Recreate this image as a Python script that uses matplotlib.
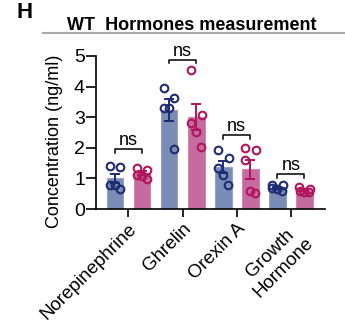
import matplotlib.pyplot as plt
import numpy as np

plt.rcParams['font.family'] = ['Liberation Sans', 'DejaVu Sans']

hormones = ['Norepinephrine', 'Ghrelin', 'Orexin A', 'Growth\nHormone']
# means / sem
blue_mean = [1.00, 3.24, 1.37, 0.68]
blue_err = [0.16, 0.36, 0.20, 0.04]
pink_mean = [1.17, 3.00, 1.30, 0.62]
pink_err = [0.06, 0.42, 0.31, 0.03]
# individual animals
blue_pts = [[1.41, 1.36, 0.80, 0.80, 0.65],
            [3.97, 3.62, 3.29, 3.29, 1.96],
            [1.93, 1.68, 1.35, 1.10, 0.80],
            [0.80, 0.78, 0.70, 0.64, 0.58]]
pink_pts = [[1.33, 1.28, 1.10, 1.08, 0.98],
            [4.54, 3.07, 2.82, 2.53, 2.04],
            [1.98, 1.93, 1.60, 0.59, 0.51],
            [0.72, 0.66, 0.60, 0.56, 0.55]]
ns_y = [1.95, 4.88, 2.42, 1.13]

jit = [-0.1, 0.1, -0.09, 0.0, 0.09]
blue_fill, blue_dot = '#7b8db6', '#1f2c74'
pink_fill, pink_dot = '#c66b9d', '#b0155e'

fig = plt.figure(figsize=(3.45, 3.29), dpi=100)
ax = fig.add_axes([96/345, 1-209/329, 229/345, 153/329])

x = np.arange(len(hormones))
off, w = 0.25, 0.31
ax.bar(x - off, blue_mean, w, color=blue_fill, edgecolor='#94a3c6', lw=0.8, zorder=1)
ax.bar(x + off, pink_mean, w, color=pink_fill, edgecolor='#d088ae', lw=0.8, zorder=1)
ax.errorbar(x - off, blue_mean, yerr=blue_err, fmt='none', ecolor=blue_dot, capsize=3.5, elinewidth=1.4, capthick=1.4, zorder=3)
ax.errorbar(x + off, pink_mean, yerr=pink_err, fmt='none', ecolor=pink_dot, capsize=3.5, elinewidth=1.4, capthick=1.4, zorder=3)
for i in range(len(hormones)):
    ax.plot(x[i] - off + np.array(jit), blue_pts[i], 'o', mfc='none', mec=blue_dot, ms=5.5, mew=1.5, zorder=4)
    ax.plot(x[i] + off + np.array(jit), pink_pts[i], 'o', mfc='none', mec=pink_dot, ms=5.5, mew=1.5, zorder=4)
    x1, x2 = x[i] - off, x[i] + off
    ax.plot([x1, x1, x2, x2], [ns_y[i] - 0.12, ns_y[i], ns_y[i], ns_y[i] - 0.12], color='black', lw=1.1)
    ax.text(x[i], ns_y[i] + 0.0, 'ns', ha='center', va='bottom', fontsize=13)

ax.set_xlim(-0.6, 3.63)
ax.set_ylim(0, 5)
ax.set_yticks([0, 1, 2, 3, 4, 5])
ax.set_xticks(x)
ax.set_xticklabels(hormones, rotation=45, ha='right', va='top', rotation_mode='anchor', fontsize=13.5, multialignment='center')
ax.tick_params(axis='y', length=7, width=1.2, labelsize=14, pad=1)
ax.tick_params(axis='x', length=6, width=1.2, pad=2)
ax.spines['top'].set_visible(False)
ax.spines['right'].set_visible(False)
ax.spines['left'].set_linewidth(1.2)
ax.spines['bottom'].set_linewidth(1.2)

fig.text(55/345, 1-141/329, 'Concentration (ng/ml)', rotation=90, ha='center', va='center', fontsize=13)
fig.text(192/345, 1-25/329, 'WT  Hormones measurement', ha='center', va='center', fontsize=13, fontweight='bold')
fig.add_artist(plt.Line2D([43/345, 1], [1-33/329, 1-33/329], color='#aaaaaa', lw=1.5))
fig.text(16/345, 1-12/329, 'H', ha='left', va='center', fontsize=16, fontweight='bold')

fig.savefig('out.png', dpi=100)
